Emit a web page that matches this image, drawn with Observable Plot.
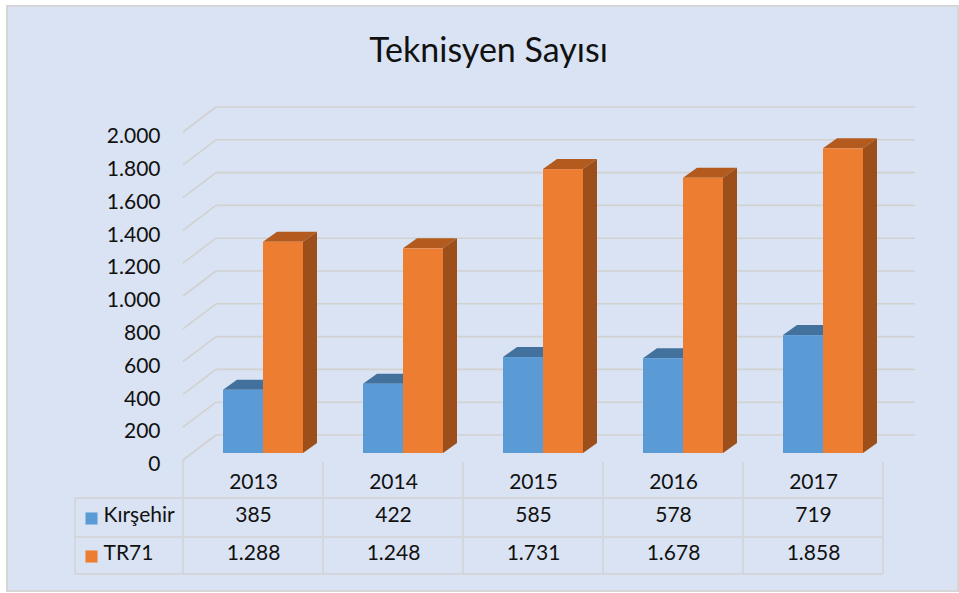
<!DOCTYPE html>
<html><head><meta charset="utf-8">
<script src="https://cdn.jsdelivr.net/npm/d3@7"></script>
<script src="https://cdn.jsdelivr.net/npm/@observablehq/plot@0.6"></script>
<style>
body{margin:0;background:#fff;}
#wrap{position:relative;width:959px;height:593px;overflow:hidden;}
#bg{position:absolute;left:6px;top:5px;width:953px;height:587px;box-sizing:border-box;background:#dae3f3;border:2px solid #d6d6d6;}
#chart{position:absolute;left:0;top:0;}
</style>
</head><body>
<div id="wrap"><div id="bg"></div><div id="chart"></div></div>
<script>
const title = "Teknisyen Sayısı";
const years = ["2013", "2014", "2015", "2016", "2017"];
const seriesNames = ["Kırşehir", "TR71"];
const kirsehir = [385, 422, 585, 578, 719];
const tr71 = [1288, 1248, 1731, 1678, 1858];
const yTicks = [0, 200, 400, 600, 800, 1000, 1200, 1400, 1600, 1800, 2000];
const colors = {"Kırşehir": {front: "#5b9bd5", top: "#41719c", side: "#3f6d99"},
                "TR71": {front: "#ed7d31", top: "#b35b1f", side: "#9c4e1b"}};

const rows = years.flatMap((y, i) => [
  {year: y, series: seriesNames[0], value: kirsehir[i]},
  {year: y, series: seriesNames[1], value: tr71[i]}
]);

const tr = d3.formatLocale({decimal: ",", thousands: ".", grouping: [3], currency: ["", "₺"]});
const fmt = tr.format(",d");

const FONT = "Lato, 'Open Sans', sans-serif";
const gridColor = "#d1d1cf";
const tableColor = "#d3d6da";
const FS = 21;

// geometry (styles)
const barStart = {"Kırşehir": 40 / 140, "TR71": 80 / 140};
const barW = 40 / 140;
const depthX = 14, depthY = -10;
const backDX = 33, backDY = -18, frontDY = 7;

function gridMark(index, scales, values, dims) {
  const g = d3.create("svg:g").attr("stroke", gridColor).attr("stroke-width", 1.6).attr("fill", "none");
  const x0 = dims.marginLeft;
  const x1 = dims.width - dims.marginRight;
  for (const t of yTicks) {
    const y = scales.y(t);
    g.append("line").attr("x1", x0).attr("y1", y + frontDY).attr("x2", x0 + backDX).attr("y2", y + backDY);
    g.append("line").attr("x1", x0 + backDX).attr("y1", y + backDY).attr("x2", x1 + backDX - 1).attr("y2", y + backDY);
  }
  return g.node();
}

function facesMark(index, scales, values, dims) {
  const g = d3.create("svg:g");
  const bw = scales.x(years[1]) - scales.x(years[0]);
  for (const d of rows) {
    const left = scales.x(d.year) + bw * barStart[d.series];
    const right = left + bw * barW;
    const top = scales.y(d.value), base = scales.y(0);
    const c = colors[d.series];
    g.append("polygon")
      .attr("points", [[left, top], [left + depthX, top + depthY], [right + depthX, top + depthY], [right, top]].join(" "))
      .attr("fill", c.top);
    g.append("polygon")
      .attr("points", [[right, top], [right + depthX, top + depthY], [right + depthX, base + depthY], [right, base]].join(" "))
      .attr("fill", c.side);
  }
  return g.node();
}

function tableMark(index, scales, values, dims) {
  const g = d3.create("svg:g").attr("stroke", tableColor).attr("stroke-width", 2).attr("fill", "none");
  const bw = scales.x(years[1]) - scales.x(years[0]);
  const base = dims.height - dims.marginBottom;
  const left = 75;
  const edges = years.map(y => scales.x(y)).concat([scales.x(years[years.length - 1]) + bw]);
  const hy = [base + 45, base + 84, base + 121];
  for (const y of hy) g.append("line").attr("x1", left).attr("x2", edges[edges.length - 1]).attr("y1", y).attr("y2", y);
  g.append("line").attr("x1", left).attr("x2", left).attr("y1", hy[0]).attr("y2", hy[2]);
  edges.forEach((x, i) => {
    g.append("line").attr("x1", x).attr("x2", x).attr("y1", base + (i === 0 ? 7 : 9)).attr("y2", hy[2]);
  });
  return g.node();
}

const plot = Plot.plot({
  width: 959,
  height: 593,
  marginLeft: 183,
  marginRight: 76,
  marginTop: 125,
  marginBottom: 140,
  style: {background: "transparent", fontFamily: FONT, overflow: "visible"},
  x: {type: "band", domain: years, padding: 0, axis: null},
  y: {domain: [0, 2000], axis: null},
  marks: [
    gridMark,
    tableMark,
    facesMark,
    Plot.barY(rows.filter(d => d.series === seriesNames[0]), {
      x: "year", y: "value", fill: colors["Kırşehir"].front, insetLeft: 40, insetRight: 60
    }),
    Plot.barY(rows.filter(d => d.series === seriesNames[1]), {
      x: "year", y: "value", fill: colors["TR71"].front, insetLeft: 80, insetRight: 20
    }),
    Plot.text(yTicks, {
      y: d => d, text: d => fmt(d), frameAnchor: "left", textAnchor: "end",
      dx: -23, dy: frontDY + 4, fontSize: FS, fill: "#111"
    }),
    Plot.text(years, {x: d => d, text: d => d, frameAnchor: "bottom", dy: 35, fontSize: FS, fill: "#111"}),
    Plot.text(years, {x: d => d, text: (d, i) => fmt(kirsehir[i]), frameAnchor: "bottom", dy: 68, fontSize: FS, fill: "#111"}),
    Plot.text(years, {x: d => d, text: (d, i) => fmt(tr71[i]), frameAnchor: "bottom", dy: 106, fontSize: FS, fill: "#111"}),
    Plot.dot([seriesNames[0]], {frameAnchor: "bottom-left", dx: -92, dy: 65, symbol: "square", r: 6.8, fill: colors["Kırşehir"].front}),
    Plot.dot([seriesNames[1]], {frameAnchor: "bottom-left", dx: -92, dy: 103, symbol: "square", r: 6.8, fill: colors["TR71"].front}),
    Plot.text([seriesNames[0]], {text: d => d, frameAnchor: "bottom-left", textAnchor: "start", dx: -80, dy: 68, fontSize: FS, fill: "#111"}),
    Plot.text([seriesNames[1]], {text: d => d, frameAnchor: "bottom-left", textAnchor: "start", dx: -80, dy: 106, fontSize: FS, fill: "#111"}),
    Plot.text([title], {text: d => d, frameAnchor: "top", dx: -45, dy: -88, fontSize: 34, fill: "#111"})
  ]
});
document.getElementById("chart").appendChild(plot);
</script>
</body></html>
